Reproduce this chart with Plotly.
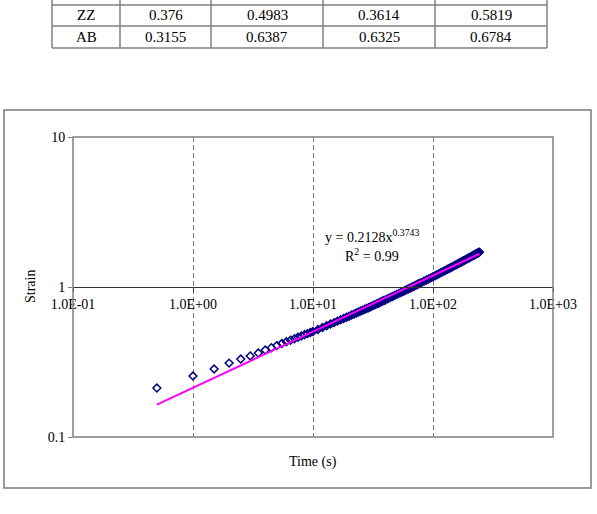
import plotly.graph_objects as go

# ---------------- data ----------------
time_s = [0.5, 1, 1.5, 2, 2.5, 3, 3.5, 4, 4.5, 5, 5.5, 6, 6.5, 7, 7.5, 8, 8.5, 9, 9.5, 10,
          11, 12, 13, 14, 15, 16, 17, 18, 19, 20, 21, 22, 23, 24, 25, 26, 27, 28, 29, 30,
          31, 32, 33, 34, 35, 36, 37, 38, 39, 40,
          42, 44, 46, 48, 50, 52, 54, 56, 58, 60, 62, 64, 66, 68, 70, 72, 74, 76, 78, 80,
          84, 88, 92, 96, 100, 104, 108, 112, 116, 120, 124, 128, 132, 136, 140, 144, 148,
          152, 156, 160, 164, 168, 172, 176, 180, 184, 188, 192, 196, 200, 204, 208, 212,
          216, 220, 224, 228, 232, 236, 240, 244]
strain = [0.212, 0.255, 0.284, 0.311, 0.331, 0.347, 0.363, 0.380, 0.394, 0.407, 0.420, 0.431,
          0.442, 0.452, 0.462, 0.472, 0.481, 0.489, 0.497, 0.505,
          0.521, 0.537, 0.551, 0.566, 0.579, 0.592, 0.605, 0.616, 0.628, 0.639, 0.650, 0.660,
          0.671, 0.681, 0.691, 0.700, 0.710, 0.718, 0.728, 0.736,
          0.746, 0.755, 0.763, 0.772, 0.780, 0.788, 0.797, 0.805, 0.812, 0.820,
          0.836, 0.851, 0.865, 0.879, 0.893, 0.907, 0.920, 0.932, 0.945, 0.958, 0.969, 0.982,
          0.993, 1.005, 1.016, 1.027, 1.038, 1.050, 1.060, 1.070,
          1.092, 1.112, 1.132, 1.151, 1.170, 1.190, 1.208, 1.226, 1.245, 1.262, 1.279, 1.295,
          1.313, 1.329, 1.345, 1.361, 1.377, 1.393, 1.408, 1.422, 1.439, 1.453, 1.467, 1.483,
          1.497, 1.511, 1.526, 1.539, 1.553, 1.568, 1.581, 1.594, 1.609, 1.621, 1.634, 1.647,
          1.659, 1.672, 1.684, 1.697, 1.709]

trend_a = 0.2128
trend_b = 0.3743
r_squared = "0.99"

x_tickvals = [0.1, 1, 10, 100, 1000]
x_ticktext = ["1.0E-01", "1.0E+00", "1.0E+01", "1.0E+02", "1.0E+03"]
y_tickvals = [0.1, 1, 10]
y_ticktext = ["0.1", "1", "10"]

table_rows = ["ZZ", "AB"]
table_values = [["0.376", "0.4983", "0.3614", "0.5819"],
                ["0.3155", "0.6387", "0.6325", "0.6784"]]

# ---------------- layout helpers ----------------
W, H = 597, 514
PL, PR, PT, PB = 73, 553, 137, 437  # plot area in px


def px(X):
    return (X - PL) / (PR - PL)


def py(Y):
    return (PB - Y) / (PB - PT)


FONT = "Liberation Serif, Times New Roman, serif"
NAVY = "#000080"

fig = go.Figure()

# dense part of the series: overlapping markers form a solid band
dense_t = [t for t in time_s if t >= 9]
dense_s = [s for t, s in zip(time_s, strain) if t >= 9]
fig.add_trace(go.Scatter(
    x=dense_t, y=dense_s, mode="lines",
    line=dict(color=NAVY, width=4.5), showlegend=False, hoverinfo="skip"))

fig.add_trace(go.Scatter(
    x=time_s, y=strain, mode="markers",
    marker=dict(symbol="diamond-open", size=6, color=NAVY,
                line=dict(color=NAVY, width=1.5)),
    showlegend=False, hoverinfo="skip"))

t_ends = [time_s[0], time_s[-1]]
fig.add_trace(go.Scatter(
    x=t_ends, y=[trend_a * t ** trend_b for t in t_ends], mode="lines",
    line=dict(color="#FF00FF", width=2), showlegend=False, hoverinfo="skip"))

shapes = []
# outer chart box
shapes.append(dict(type="rect", xref="paper", yref="paper",
                   x0=px(4), x1=px(591), y0=py(110), y1=py(488),
                   line=dict(color="#7a7a7a", width=1.5), layer="below"))
# plot area border
shapes.append(dict(type="rect", xref="paper", yref="paper",
                   x0=0, x1=1, y0=0, y1=1,
                   line=dict(color="#808080", width=1.5), layer="above"))

# table grid
col_x = [52, 120, 211, 323, 435, 547]
row_y = [5, 26, 48]
for X in col_x:
    shapes.append(dict(type="line", xref="paper", yref="paper",
                       x0=px(X), x1=px(X), y0=py(-2), y1=py(48),
                       line=dict(color="#808080", width=1.5)))
for Y in row_y:
    shapes.append(dict(type="line", xref="paper", yref="paper",
                       x0=px(52), x1=px(547), y0=py(Y), y1=py(Y),
                       line=dict(color="#808080", width=1.5)))

annotations = []
for r, (name, vals) in enumerate(zip(table_rows, table_values)):
    yc = (row_y[r] + row_y[r + 1]) / 2
    cells = [name] + vals
    for c, txt in enumerate(cells):
        xc = (col_x[c] + col_x[c + 1]) / 2
        annotations.append(dict(x=px(xc), y=py(yc), xref="paper", yref="paper",
                                text=txt, showarrow=False,
                                font=dict(family=FONT, size=15, color="black"),
                                xanchor="center", yanchor="middle"))

annotations.append(dict(x=px(372), y=py(236), xref="paper", yref="paper",
                        text=f"y = {trend_a}x<sup>{trend_b}</sup>", showarrow=False,
                        font=dict(family=FONT, size=14, color="black"),
                        xanchor="center", yanchor="middle"))
annotations.append(dict(x=px(372), y=py(255), xref="paper", yref="paper",
                        text=f"R<sup>2</sup> = {r_squared}", showarrow=False,
                        font=dict(family=FONT, size=14, color="black"),
                        xanchor="center", yanchor="middle"))
annotations.append(dict(x=px(313), y=py(462), xref="paper", yref="paper",
                        text="Time (s)", showarrow=False,
                        font=dict(family=FONT, size=14, color="black"),
                        xanchor="center", yanchor="middle"))
annotations.append(dict(x=px(30), y=py(287), xref="paper", yref="paper",
                        text="Strain", showarrow=False, textangle=-90,
                        font=dict(family=FONT, size=14, color="black"),
                        xanchor="center", yanchor="middle"))

fig.update_layout(
    width=W, height=H,
    margin=dict(l=PL, r=W - PR, t=PT, b=H - PB, pad=0),
    paper_bgcolor="white", plot_bgcolor="white",
    font=dict(family=FONT, size=14, color="black"),
    shapes=shapes, annotations=annotations,
    xaxis=dict(type="log", range=[-1, 3], tickvals=x_tickvals, ticktext=x_ticktext,
               anchor="free", position=0.5, showline=True, linecolor="#333333",
               linewidth=1.2, ticks="outside", ticklen=4, tickcolor="#333333",
               showgrid=True, gridcolor="#808080", griddash="5px,3px", gridwidth=1,
               zeroline=False, tickfont=dict(family=FONT, size=14, color="black")),
    yaxis=dict(type="log", range=[-1, 1], tickvals=y_tickvals, ticktext=y_ticktext,
               showline=False, ticks="outside", ticklen=4, tickcolor="#808080",
               showgrid=False, zeroline=False,
               tickfont=dict(family=FONT, size=14, color="black")),
)

fig.write_html("out.html")
